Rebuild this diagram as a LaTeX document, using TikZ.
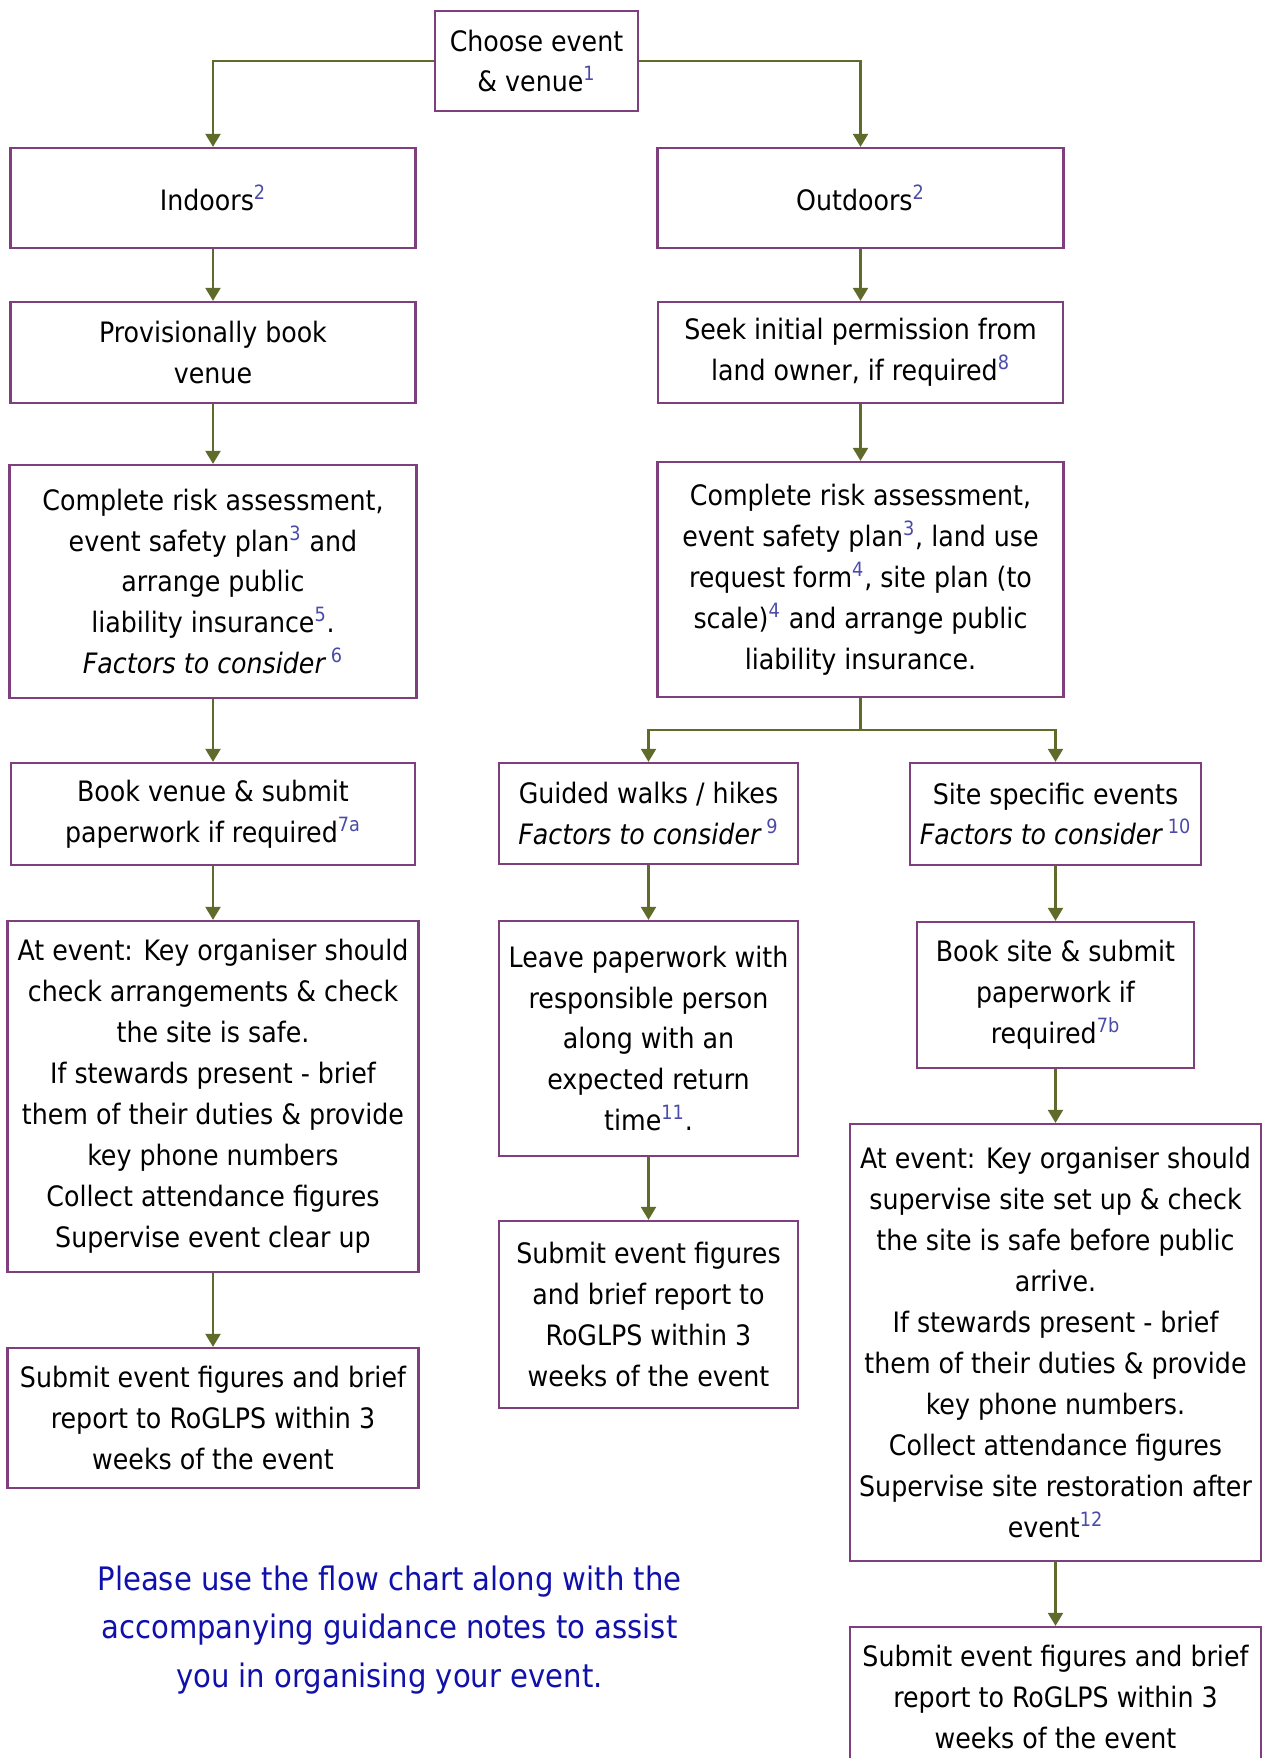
\documentclass[tikz,border=0pt]{standalone}
\usepackage{fontspec}
\setmainfont{DejaVu Sans Condensed}
\usepackage{xcolor}
\usepackage{tikz}
\usetikzlibrary{arrows.meta}
\definecolor{boxpurple}{HTML}{7F3F7F}
\definecolor{arrowolive}{HTML}{5F6B2B}
\definecolor{notenum}{HTML}{4A4AAA}
\definecolor{noteblue}{HTML}{1010AA}
\newcommand{\fnref}[1]{\textsuperscript{\color{notenum}#1}}

\begin{document}
\begin{tikzpicture}[
    box/.style={draw=boxpurple,line width=1.3pt,align=center,inner sep=2pt,font=\fontsize{16}{23.3}\selectfont},
    arr/.style={arrowolive,line width=1.3pt,-{Triangle[width=0.3cm,length=0.26cm]}},
    link/.style={arrowolive,line width=1.3pt},
  ]
    \useasboundingbox (0,0) rectangle (25.26,-35.16);
    % top of the chart
    \node[box,minimum width=4.06cm,minimum height=2cm] (choose) at (10.73,-1.22) {Choose event\\ \& venue\fnref{1}};
    \node[box,minimum width=8.10cm,minimum height=2cm] (indoor) at (4.26,-3.96) {Indoors\fnref{2}};
    \node[box,minimum width=8.12cm,minimum height=2cm] (outdoor) at (17.21,-3.96) {Outdoors\fnref{2}};
    % indoor column
    \node[box,minimum width=8.10cm,minimum height=2.02cm] (provbook) at (4.26,-7.05) {Provisionally book\\venue};
    \node[box,minimum width=8.14cm,minimum height=4.66cm] (riskin) at (4.26,-11.63) {Complete risk assessment,\\event safety plan\fnref{3} and\\arrange public\\liability insurance\fnref{5}.\\\textit{Factors to consider}\,\fnref{6}};
    \node[box,minimum width=8.08cm,minimum height=2.04cm] (bookvenue) at (4.26,-16.28) {Book venue \& submit\\paperwork if required\fnref{7a}};
    \node[box,minimum width=8.22cm,minimum height=7.02cm] (eventin) at (4.26,-21.93) {At event: Key organiser should\\check arrangements \& check\\the site is safe.\\If stewards present - brief\\them of their duties \& provide\\key phone numbers\\Collect attendance figures\\Supervise event clear up};
    \node[box,minimum width=8.22cm,minimum height=2.80cm] (reportin) at (4.26,-28.36) {Submit event figures and brief\\report to RoGLPS within 3\\weeks of the event};
    % outdoor column
    \node[box,minimum width=8.10cm,minimum height=2.02cm] (permission) at (17.21,-7.05) {Seek initial permission from\\land owner, if required\fnref{8}};
    \node[box,minimum width=8.12cm,minimum height=4.70cm] (riskout) at (17.21,-11.59) {Complete risk assessment,\\event safety plan\fnref{3}, land use\\request form\fnref{4}, site plan (to\\scale)\fnref{4} and arrange public\\liability insurance.};
    % walks
    \node[box,minimum width=5.98cm,minimum height=2.02cm] (walks) at (12.97,-16.27) {Guided walks / hikes\\\textit{Factors to consider}\,\fnref{9}};
    \node[box,minimum width=5.98cm,minimum height=4.70cm] (leavepaper) at (12.97,-20.77) {Leave paperwork with\\responsible person\\along with an\\expected return\\time\fnref{11}.};
    \node[box,minimum width=5.98cm,minimum height=3.74cm] (reportwalk) at (12.97,-26.29) {Submit event figures\\and brief report to\\RoGLPS within 3\\weeks of the event};
    % site events
    \node[box,minimum width=5.82cm,minimum height=2.04cm] (siteevents) at (21.11,-16.28) {Site specific events\\\textit{Factors to consider}\,\fnref{10}};
    \node[box,minimum width=5.54cm,minimum height=2.92cm] (booksite) at (21.11,-19.90) {Book site \& submit\\paperwork if\\required\fnref{7b}};
    \node[box,minimum width=8.22cm,minimum height=8.74cm] (eventsite) at (21.11,-26.85) {At event: Key organiser should\\supervise site set up \& check\\the site is safe before public\\arrive.\\If stewards present - brief\\them of their duties \& provide\\key phone numbers.\\Collect attendance figures\\Supervise site restoration after\\event\fnref{12}};
    \node[box,minimum width=8.22cm,minimum height=2.80cm] (reportsite) at (21.11,-33.94) {Submit event figures and brief\\report to RoGLPS within 3\\weeks of the event};
    % note
    \node[align=center,text=noteblue,font=\fontsize{18.4}{27.6}\selectfont] (note) at (7.79,-32.6) {Please use the flow chart along with the\\accompanying guidance notes to assist\\you in organising your event.};

    \draw[arr] (choose.west) -| (indoor.north);
    \draw[arr] (choose.east) -| (outdoor.north);
    \draw[arr] (indoor) -- (provbook);
    \draw[arr] (provbook) -- (riskin);
    \draw[arr] (riskin) -- (bookvenue);
    \draw[arr] (bookvenue) -- (eventin);
    \draw[arr] (eventin) -- (reportin);
    \draw[arr] (outdoor) -- (permission);
    \draw[arr] (permission) -- (riskout);
    \draw[link] (riskout.south) -- ++(0,-0.64) coordinate (fork);
    \draw[arr] (fork) -| (walks.north);
    \draw[arr] (fork) -| (siteevents.north);
    \draw[arr] (walks) -- (leavepaper);
    \draw[arr] (leavepaper) -- (reportwalk);
    \draw[arr] (siteevents) -- (booksite);
    \draw[arr] (booksite) -- (eventsite);
    \draw[arr] (eventsite) -- (reportsite);
  \end{tikzpicture}
\end{document}
